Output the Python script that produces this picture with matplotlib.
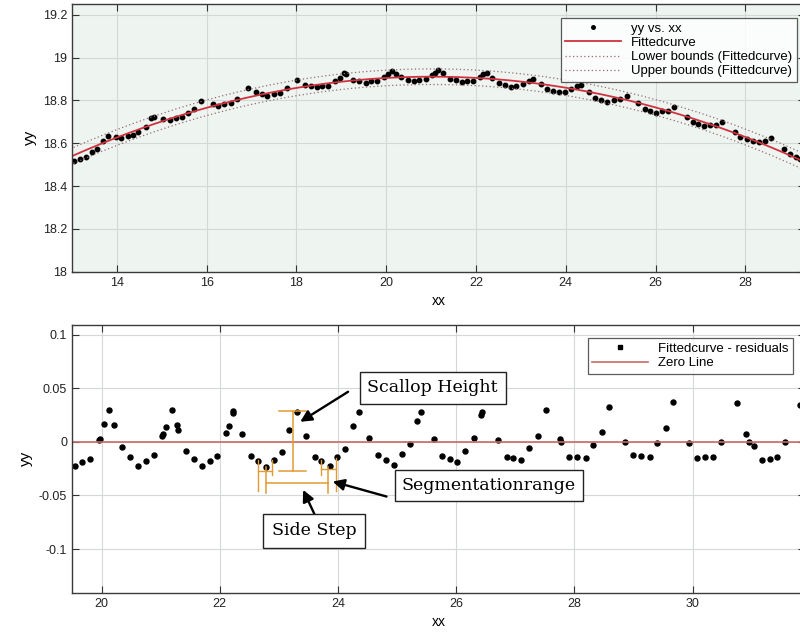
import numpy as np
import matplotlib.pyplot as plt
from matplotlib.lines import Line2D
from matplotlib.ticker import FuncFormatter

# ---- data ----
# top panel: measured profile yy vs. xx
top_x = [13.04, 13.17, 13.31, 13.44, 13.55, 13.70, 13.81, 13.98, 14.10, 14.24,
         14.37, 14.48, 14.65, 14.77, 14.83, 15.03, 15.19, 15.32, 15.45, 15.59,
         15.72, 15.87, 16.13, 16.26, 16.39, 16.54, 16.67, 16.93, 17.09, 17.23,
         17.35, 17.50, 17.63, 17.78, 18.02, 18.18, 18.32, 18.45, 18.58, 18.71,
         18.85, 18.97, 19.05, 19.10, 19.27, 19.39, 19.54, 19.65, 19.79, 19.94,
         20.03, 20.12, 20.21, 20.32, 20.48, 20.62, 20.74, 20.88, 21.03, 21.08,
         21.16, 21.27, 21.41, 21.55, 21.68, 21.81, 21.94, 22.10, 22.16, 22.24,
         22.36, 22.51, 22.64, 22.77, 22.90, 23.04, 23.18, 23.27, 23.44, 23.59,
         23.72, 23.86, 23.99, 24.12, 24.26, 24.35, 24.51, 24.66, 24.79, 24.92,
         25.07, 25.20, 25.37, 25.60, 25.76, 25.88, 26.01, 26.14, 26.28, 26.42,
         26.69, 26.84, 26.95, 27.07, 27.22, 27.35, 27.48, 27.76, 27.89, 28.04,
         28.17, 28.30, 28.44, 28.58, 28.87, 29.00, 29.13, 29.22]
top_y = [18.517, 18.525, 18.537, 18.558, 18.575, 18.612, 18.633, 18.628, 18.626, 18.634,
         18.639, 18.654, 18.678, 18.717, 18.721, 18.714, 18.709, 18.717, 18.721, 18.743,
         18.760, 18.798, 18.782, 18.774, 18.782, 18.787, 18.808, 18.857, 18.840, 18.830,
         18.822, 18.830, 18.836, 18.857, 18.893, 18.872, 18.868, 18.862, 18.868, 18.869,
         18.891, 18.904, 18.930, 18.922, 18.896, 18.891, 18.883, 18.891, 18.891, 18.908,
         18.924, 18.939, 18.924, 18.908, 18.896, 18.891, 18.896, 18.902, 18.919, 18.927,
         18.943, 18.930, 18.902, 18.893, 18.886, 18.890, 18.891, 18.908, 18.924, 18.930,
         18.904, 18.883, 18.872, 18.864, 18.869, 18.877, 18.891, 18.902, 18.877, 18.852,
         18.846, 18.841, 18.841, 18.852, 18.865, 18.873, 18.841, 18.813, 18.802, 18.794,
         18.802, 18.807, 18.821, 18.787, 18.760, 18.752, 18.743, 18.751, 18.752, 18.768,
         18.724, 18.701, 18.690, 18.681, 18.686, 18.686, 18.701, 18.654, 18.631, 18.619,
         18.612, 18.607, 18.611, 18.626, 18.572, 18.550, 18.537, 18.525]

# bottom panel: residuals of the fitted curve
res_x = [19.55, 19.67, 19.80, 19.95, 19.97, 20.04, 20.12, 20.21, 20.34, 20.48,
         20.62, 20.75, 20.89, 21.03, 21.04, 21.09, 21.19, 21.27, 21.29, 21.43,
         21.56, 21.70, 21.84, 21.96, 22.10, 22.15, 22.22, 22.23, 22.37, 22.52,
         22.65, 22.78, 22.91, 23.05, 23.17, 23.30, 23.46, 23.61, 23.72, 23.86,
         23.99, 24.12, 24.26, 24.35, 24.53, 24.67, 24.81, 24.95, 25.08, 25.21,
         25.34, 25.40, 25.62, 25.76, 25.89, 26.02, 26.15, 26.30, 26.42, 26.43,
         26.70, 26.85, 26.96, 27.09, 27.23, 27.38, 27.51, 27.76, 27.77, 27.91,
         28.05, 28.19, 28.32, 28.46, 28.59, 28.85, 28.99, 29.12, 29.27, 29.40,
         29.54, 29.67, 29.94, 30.08, 30.21, 30.34, 30.48, 30.75, 30.90, 30.96,
         31.03, 31.17, 31.30, 31.42, 31.56, 31.81]
res_y = [-0.0221, -0.0187, -0.0156, 0.0016, 0.0030, 0.0165, 0.0300, 0.0159, -0.0047, -0.0140,
         -0.0224, -0.0174, -0.0124, 0.0055, 0.0070, 0.0143, 0.0296, 0.0155, 0.0110, -0.0087,
         -0.0161, -0.0227, -0.0174, -0.0128, 0.0078, 0.0149, 0.0292, 0.0270, 0.0075, -0.0128,
         -0.0174, -0.0230, -0.0165, -0.0096, 0.0106, 0.0274, 0.0050, -0.0137, -0.0174, -0.0224,
         -0.0143, -0.0065, 0.0152, 0.0277, 0.0040, -0.0124, -0.0171, -0.0215, -0.0112, -0.0016,
         0.0196, 0.0277, 0.0028, -0.0131, -0.0159, -0.0190, -0.0083, 0.0040, 0.0247, 0.0280,
         0.0020, -0.0137, -0.0152, -0.0168, -0.0053, 0.0056, 0.0296, 0.0025, 0.0000, -0.0137,
         -0.0143, -0.0147, -0.0030, 0.0088, 0.0329, 0.0000, -0.0124, -0.0131, -0.0143, -0.0007,
         0.0125, 0.0370, -0.0015, -0.0147, -0.0137, -0.0137, 0.0000, 0.0358, 0.0069, 0.0000,
         -0.0040, -0.0165, -0.0156, -0.0143, 0.0000, 0.0340]

top_yticks = [18, 18.2, 18.4, 18.6, 18.8, 19, 19.2]
top_xticks = [14, 16, 18, 20, 22, 24, 26, 28]
bot_yticks = [-0.1, -0.05, 0, 0.05, 0.1]
bot_xticks = [20, 22, 24, 26, 28, 30]

# annotation measures (data units of the residual panel)
scallop_x, scallop_top, scallop_bot = 23.23, 0.029, -0.027
seg_left, seg_right, seg_y = 22.79, 23.83, -0.038
step_left = (22.65, 22.89)
step_right = (23.72, 23.97)

plt.rcParams['font.family'] = 'Liberation Sans'
plt.rcParams['font.size'] = 9

fmt = FuncFormatter(lambda v, p: '%g' % v)
orange = '#e39a33'
red = '#d0323f'


def style_axes(ax):
    ax.tick_params(direction='in', top=True, right=True, length=5, width=0.8,
                   colors='#333333', labelcolor='#222222', labelsize=9)
    for s in ax.spines.values():
        s.set_color('#3a3a3a')
        s.set_linewidth(1.0)
    ax.grid(True, color='#d4d8d6', linewidth=0.8)
    ax.set_axisbelow(True)
    ax.yaxis.set_major_formatter(fmt)
    ax.xaxis.set_major_formatter(fmt)


fig = plt.figure(figsize=(8, 6.36), dpi=100)

# ---------- top: fit ----------
ax1 = fig.add_axes([0.09, 0.5728, 0.9163, 0.4209])
ax1.set_facecolor('#eef5f1')
style_axes(ax1)

tx = np.array(top_x)
ty = np.array(top_y)
coef = np.polyfit(tx, ty, 2)
X = np.vander(tx, 3)
r = ty - X @ coef
s = np.sqrt(r @ r / (len(tx) - 3))
XtX_inv = np.linalg.inv(X.T @ X)
xs = np.linspace(12.5, 30, 300)
Xs = np.vander(xs, 3)
fit = np.polyval(coef, xs)
half = 1.98 * s * np.sqrt(1 + np.einsum('ij,jk,ik->i', Xs, XtX_inv, Xs))

ax1.plot(tx, ty, 'o', color='black', markersize=3.2, label='yy vs. xx')
ax1.plot(xs, fit, color=red, linewidth=1.3, label='Fittedcurve')
ax1.plot(xs, fit - half, color='#9a6a6e', linewidth=0.9, linestyle=(0, (1, 2)),
         label='Lower bounds (Fittedcurve)')
ax1.plot(xs, fit + half, color='#9a6a6e', linewidth=0.9, linestyle=(0, (1, 2)),
         label='Upper bounds (Fittedcurve)')

ax1.set_xlim(13, 29.33)
ax1.set_ylim(18, 19.25)
ax1.set_xticks(top_xticks)
ax1.set_yticks(top_yticks)
ax1.set_xlabel('xx', fontsize=10)
ax1.set_ylabel('yy', fontsize=11)
leg1 = ax1.legend(loc='upper right', bbox_to_anchor=(0.989, 0.948), borderaxespad=0,
                  fontsize=9.5, frameon=True, fancybox=False, edgecolor='#333333',
                  handlelength=4.2, labelspacing=0.15, borderpad=0.35, markerscale=0.8)
leg1.get_frame().set_linewidth(0.9)

# ---------- bottom: residuals ----------
ax2 = fig.add_axes([0.09, 0.0681, 0.9163, 0.4209])
style_axes(ax2)
ax2.plot(res_x, res_y, 'o', color='black', markersize=3.6)
ax2.axhline(0, color='#c86a6a', linewidth=1.2)

# scallop height bar
ax2.plot([scallop_x, scallop_x], [scallop_bot, scallop_top], color=orange, lw=1.1)
for yv in (scallop_top, scallop_bot):
    ax2.plot([scallop_x - 0.22, scallop_x + 0.22], [yv, yv], color=orange, lw=1.1)
# segmentation range
ax2.plot([seg_left, seg_right], [seg_y, seg_y], color=orange, lw=1.1)
for xv in (seg_left, seg_right):
    ax2.plot([xv, xv], [-0.023, -0.048], color=orange, lw=1.1)
# side steps
ax2.plot([step_left[0], step_left[0]], [-0.017, -0.046], color=orange, lw=1.0)
ax2.plot([step_left[1], step_left[1]], [-0.017, -0.031], color=orange, lw=1.0)
ax2.plot(step_left, [-0.0275, -0.0275], color=orange, lw=1.0)
ax2.plot([step_right[0], step_right[0]], [-0.017, -0.031], color=orange, lw=1.0)
ax2.plot([step_right[1], step_right[1]], [-0.015, -0.046], color=orange, lw=1.0)
ax2.plot(step_right, [-0.0255, -0.0255], color=orange, lw=1.0)

box = dict(boxstyle='square,pad=0.4', facecolor='white', edgecolor='#222222', linewidth=1.0)
arrow = dict(arrowstyle='-|>', color='black', lw=1.7, mutation_scale=17, shrinkA=0, shrinkB=0)
ax2.annotate('', xy=(23.36, 0.0187), xytext=(24.17, 0.0467), arrowprops=arrow)
ax2.annotate('', xy=(23.91, -0.037), xytext=(24.82, -0.051), arrowprops=arrow)
ax2.annotate('', xy=(23.41, -0.0448), xytext=(23.62, -0.0697), arrowprops=arrow)
ax2.text(25.6, 0.0504, 'Scallop Height', family='DejaVu Serif', fontsize=12.5,
         ha='center', va='center', bbox=dict(box, boxstyle='square,pad=0.45'))
ax2.text(26.55, -0.041, 'Segmentationrange', family='DejaVu Serif', fontsize=12.5,
         ha='center', va='center', bbox=box)
ax2.text(23.6, -0.083, 'Side Step', family='DejaVu Serif', fontsize=12.5,
         ha='center', va='center', bbox=dict(box, boxstyle='square,pad=0.5'))

ax2.set_xlim(19.5, 31.9)
ax2.set_ylim(-0.1407, 0.109)
ax2.set_xticks(bot_xticks)
ax2.set_yticks(bot_yticks)
ax2.set_xlabel('xx', fontsize=10)
ax2.set_ylabel('yy', fontsize=11)
handles = [Line2D([], [], marker='s', color='black', linestyle='none', markersize=3.2),
           Line2D([], [], color='#c86a6a', linewidth=1.2)]
leg2 = ax2.legend(handles, ['Fittedcurve - residuals', 'Zero Line'],
                  loc='upper right', bbox_to_anchor=(0.984, 0.951), borderaxespad=0,
                  fontsize=9.5, frameon=True, fancybox=False, edgecolor='#333333',
                  handlelength=4.2, labelspacing=0.15, borderpad=0.35)
leg2.get_frame().set_linewidth(0.9)

fig.savefig('out.png', dpi=100)
